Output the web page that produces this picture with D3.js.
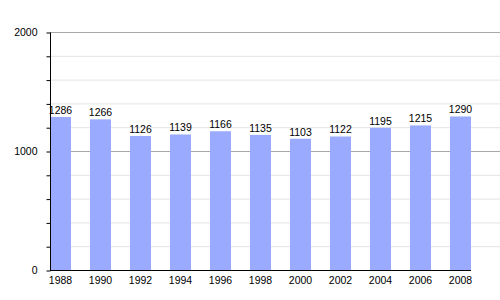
<!DOCTYPE html>
<html>
<head>
<meta charset="utf-8">
<script src="https://cdn.jsdelivr.net/npm/d3@7"></script>
<style>
  body { margin: 0; background: #fff; }
  text { font-family: "Liberation Sans", Arial, sans-serif; font-size: 10.5px; fill: #000; }
</style>
</head>
<body>
<div id="chart"></div>
<script>
// population by census year
var years = ["1988", "1990", "1992", "1994", "1996", "1998", "2000", "2002", "2004", "2006", "2008"];
var population = [1286, 1266, 1126, 1139, 1166, 1135, 1103, 1122, 1195, 1215, 1290];
var majorTicks = [0, 1000, 2000];
var minorTicks = [200, 400, 600, 800, 1200, 1400, 1600, 1800];

var width = 500, height = 300;
var margin = {top: 32, left: 50, bottom: 30, right: 10};

var svg = d3.select("#chart").append("svg")
    .attr("width", width)
    .attr("height", height);

var x = d3.scaleBand()
    .domain(years)
    .range([margin.left, 490])
    .paddingInner(0.475)
    .paddingOuter(0.2375)
    .align(0);

var y = d3.scaleLinear()
    .domain([0, 2000])
    .range([height - margin.bottom, margin.top]);

// grid lines
svg.selectAll(".minor")
    .data(minorTicks)
    .enter()
    .append("line")
    .attr("x1", margin.left)
    .attr("x2", width)
    .attr("y1", function(d) { return y(d) + 0.5; })
    .attr("y2", function(d) { return y(d) + 0.5; })
    .attr("stroke", "#e3e3e3");

svg.selectAll(".major")
    .data(majorTicks.slice(1))
    .enter()
    .append("line")
    .attr("x1", margin.left)
    .attr("x2", width)
    .attr("y1", function(d) { return y(d) + 0.5; })
    .attr("y2", function(d) { return y(d) + 0.5; })
    .attr("stroke", "#a8a8a8");

// bars
svg.selectAll("rect")
    .data(population)
    .enter()
    .append("rect")
    .attr("x", function(d, i) { return x(years[i]); })
    .attr("y", function(d) { return y(d); })
    .attr("width", x.bandwidth())
    .attr("height", function(d) { return y(0) - y(d); })
    .attr("fill", "#99aaff");

// value labels
svg.selectAll(".val")
    .data(population)
    .enter()
    .append("text")
    .attr("x", function(d, i) { return x(years[i]) + x.bandwidth() / 2; })
    .attr("y", function(d) { return y(d) - 3; })
    .attr("text-anchor", "middle")
    .text(function(d) { return d; });

// y axis with minor ticks
var yAxis = d3.axisLeft(y)
    .tickValues(majorTicks.concat(minorTicks))
    .tickSize(4)
    .tickFormat(function(d) { return majorTicks.indexOf(d) >= 0 ? d : ""; });

var gy = svg.append("g")
    .attr("transform", "translate(" + (margin.left + 0.5) + ",0.5)")
    .call(yAxis);
gy.select(".domain").attr("d", "M0," + y(2000) + "V" + y(0));
gy.selectAll("text").attr("x", -13).style("font-size", "10.5px").style("font-family", "Liberation Sans, Arial, sans-serif");

// x axis line + year labels
svg.append("line")
    .attr("x1", margin.left)
    .attr("x2", x(years[years.length - 1]) + x.bandwidth())
    .attr("y1", y(0) + 0.5)
    .attr("y2", y(0) + 0.5)
    .attr("stroke", "#000");

svg.selectAll(".year")
    .data(years)
    .enter()
    .append("text")
    .attr("x", function(d) { return x(d) + x.bandwidth() / 2; })
    .attr("y", y(0) + 14)
    .attr("text-anchor", "middle")
    .text(function(d) { return d; });
</script>
</body>
</html>
